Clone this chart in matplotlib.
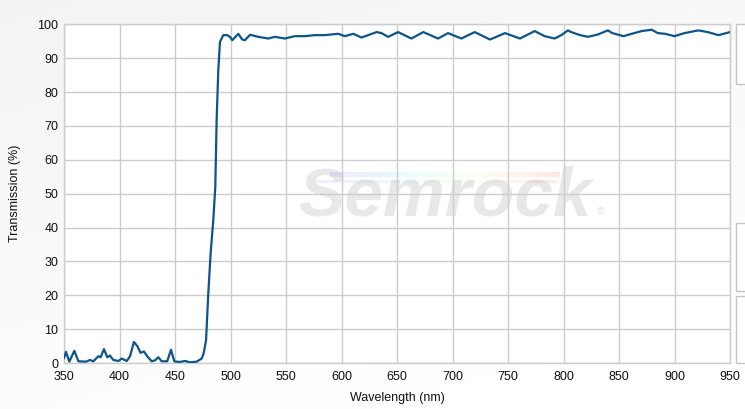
import numpy as np
import matplotlib
matplotlib.use("Agg")
import matplotlib.pyplot as plt
from matplotlib.patches import Rectangle

# ---- data ----
wavelength = [350, 351.8, 354.8, 359.3, 363, 370, 373.4, 376.4, 381, 383, 386, 389, 391.4,
              394.4, 399, 402, 406.5, 409.5, 413, 416, 419, 422, 425, 429, 432, 435, 438,
              443, 446.4, 449.4, 454, 459, 463.5, 469.5, 474, 475.5, 476.5, 478, 480, 482.1,
              484.5, 486.3, 487.5, 489, 490.5, 493.5, 497, 499.5, 501.6, 507, 510.6, 513,
              517.6, 525, 534, 540, 549, 558, 567, 576, 585, 597, 603, 610.6, 618, 624,
              631.7, 636, 642, 651, 663, 673.7, 687, 696, 708, 720, 733.8, 747.3, 760.8,
              774, 783, 792, 798, 804, 807, 815, 822, 831, 840, 844, 854, 861.5, 870.5,
              879.5, 885, 891.4, 900, 909, 921.5, 930, 939.6, 950]
transmission = [1.5, 3.3, 0.4, 3.6, 0.5, 0.4, 0.9, 0.5, 2.0, 1.7, 4.1, 1.7, 2.2,
                0.9, 0.6, 1.3, 0.6, 2.0, 6.2, 5.0, 3.0, 3.4, 2.0, 0.5, 0.8, 1.7, 0.5,
                0.5, 3.9, 0.5, 0.3, 0.6, 0.2, 0.4, 1.3, 2.5, 4.0, 6.8, 20.6, 32.4,
                42.2, 52.0, 71.7, 86.4, 94.8, 96.8, 96.8, 96.3, 95.3, 97.2, 95.5, 95.3,
                96.9, 96.3, 95.8, 96.3, 95.8, 96.5, 96.5, 96.8, 96.8, 97.2, 96.5, 97.2, 96.1, 96.8,
                97.7, 97.4, 96.3, 97.7, 95.8, 97.7, 95.8, 97.4, 95.8, 97.7, 95.5, 97.4, 95.8,
                98.0, 96.5, 95.8, 96.8, 98.2, 97.7, 96.8, 96.3, 97.0, 98.2, 97.4, 96.5, 97.2, 98.0,
                98.4, 97.4, 97.2, 96.5, 97.4, 98.2, 97.7, 96.8, 97.7]
x_ticks = [350, 400, 450, 500, 550, 600, 650, 700, 750, 800, 850, 900, 950]
y_ticks = [0, 10, 20, 30, 40, 50, 60, 70, 80, 90, 100]

plt.rcParams['font.family'] = ['Liberation Sans', 'DejaVu Sans']

W, H = 745, 409
fig = plt.figure(figsize=(W / 100, H / 100), dpi=100)

# background gradient (white top -> light gray bottom-left)
bg = fig.add_axes([0, 0, 1, 1], zorder=-10)
yy, xx = np.mgrid[0:1:200j, 0:1:200j]
g = 1.0 - 0.045 * np.clip((1 - yy) * 0.8 + (1 - xx) * 0.4 - 0.2, 0, 1)
bg.imshow(np.dstack([g, g, g]), extent=[0, 1, 0, 1], origin='upper', aspect='auto')
bg.set_xlim(0, 1); bg.set_ylim(0, 1)
bg.axis('off')

# right-side panel boxes
def fx(px): return px / W
def fy(py): return 1 - py / H
for (y0, y1) in [(24, 84), (223, 291), (296, 363)]:
    bg.add_patch(Rectangle((fx(736), fy(y1)), fx(760) - fx(736), fy(y0) - fy(y1),
                           facecolor='white', edgecolor='#c4c4c4', lw=1.0))

L, R, T, B = 64, 730, 24.3, 363
ax = fig.add_axes([L / W, 1 - B / H, (R - L) / W, (B - T) / H])
ax.set_facecolor('white')
ax.set_xlim(350, 950)
ax.set_ylim(0, 100)
ax.set_xticks(x_ticks)
ax.set_yticks(y_ticks)
ax.grid(True, color='#cccccc', lw=1.0)
ax.set_axisbelow(True)
for s in ax.spines.values():
    s.set_color('#cccccc')
    s.set_linewidth(1.0)
ax.tick_params(length=0, labelsize=9, colors='#111111')
ax.tick_params(axis='x', pad=6)
ax.tick_params(axis='y', pad=4)

# watermark (drawn under the grid)
ax.text(0.572, 0.49, 'Semrock', transform=ax.transAxes, fontsize=50, fontweight='bold',
        fontstyle='italic', color='#e8e8e8', ha='center', va='center', zorder=0.3)
ax.text(0.80, 0.445, '®', transform=ax.transAxes, fontsize=7, color='#e0e0e0',
        ha='left', va='center', zorder=0.3)
grad = np.linspace(0, 1, 200)[None, :]
ax.imshow(grad, cmap='rainbow', extent=[0.40, 0.745, 0.548, 0.562], transform=ax.transAxes,
          aspect='auto', alpha=0.10, zorder=0.3)
ax.imshow(grad, cmap='rainbow', extent=[0.38, 0.74, 0.53, 0.538], transform=ax.transAxes,
          aspect='auto', alpha=0.08, zorder=0.3)

ax.plot(wavelength, transmission, color='#0c5489', lw=1.6, zorder=3, solid_joinstyle='round')

ax.set_xlabel('Wavelength (nm)', fontsize=9, color='#111111', labelpad=6)
ax.set_ylabel('Transmission (%)', fontsize=9, color='#111111', labelpad=12)

fig.savefig('out.png', dpi=100)
